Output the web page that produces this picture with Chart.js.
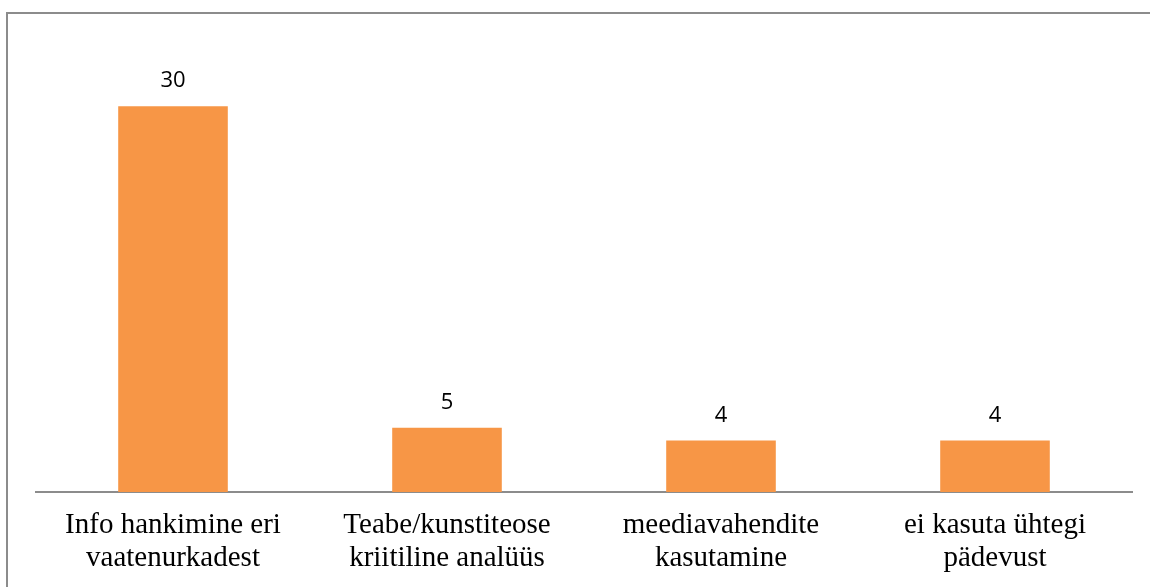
<!DOCTYPE html>
<html>
<head>
<meta charset="utf-8">
<script src="https://cdn.jsdelivr.net/npm/chart.js@4"></script>
<style>
  html, body { margin: 0; padding: 0; background: #ffffff; }
  #wrap { width: 1150px; height: 587px; position: relative; }
</style>
</head>
<body>
<div id="wrap"><canvas id="c" width="1150" height="587"></canvas></div>
<script>
// Kategooriad (kaherealised sildid) ja vastuste arv
const categories = [
  ["Info hankimine eri", "vaatenurkadest"],
  ["Teabe/kunstiteose", "kriitiline analüüs"],
  ["meediavahendite", "kasutamine"],
  ["ei kasuta ühtegi", "pädevust"]
];
const counts = [30, 5, 4, 4];

const BAR_COLOR = "#F79646";
const LINE_COLOR = "#8c8c8c";

// Raam ümber kogu joonise
const framePlugin = {
  id: "frame",
  beforeDraw(chart) {
    const ctx = chart.ctx;
    ctx.save();
    ctx.fillStyle = "#ffffff";
    ctx.fillRect(0, 0, chart.width, chart.height);
    ctx.strokeStyle = LINE_COLOR;
    ctx.lineWidth = 2;
    ctx.strokeRect(7, 13, chart.width + 50, chart.height + 50);
    ctx.restore();
  }
};

// Väärtuste sildid tulpade kohal
const valueLabels = {
  id: "valueLabels",
  afterDatasetsDraw(chart) {
    const ctx = chart.ctx;
    const meta = chart.getDatasetMeta(0);
    ctx.save();
    ctx.font = "22px 'Open Sans', sans-serif";
    ctx.fillStyle = "#000000";
    ctx.textAlign = "center";
    ctx.textBaseline = "alphabetic";
    meta.data.forEach((bar, i) => {
      ctx.fillText(String(counts[i]), bar.x, bar.y - 19);
    });
    ctx.restore();
  }
};

new Chart(document.getElementById("c"), {
  type: "bar",
  data: {
    labels: categories,
    datasets: [{
      data: counts,
      backgroundColor: BAR_COLOR,
      borderWidth: 0,
      barPercentage: 1,
      categoryPercentage: 0.4
    }]
  },
  options: {
    responsive: false,
    animation: false,
    devicePixelRatio: 1,
    layout: { padding: { left: 36, right: 18, top: 42, bottom: 0 } },
    plugins: {
      legend: { display: false },
      tooltip: { enabled: false }
    },
    scales: {
      y: {
        display: false,
        min: 0,
        max: 35
      },
      x: {
        grid: { display: false, drawTicks: false },
        border: { display: true, color: LINE_COLOR, width: 2 },
        ticks: {
          color: "#000000",
          padding: 17,
          maxRotation: 0,
          autoSkip: false,
          font: { family: "'Liberation Serif', 'Times New Roman', serif", size: 29, lineHeight: 1.14 }
        },
        afterFit(scale) { scale.height = 95; }
      }
    }
  },
  plugins: [framePlugin, valueLabels]
});
</script>
</body>
</html>
